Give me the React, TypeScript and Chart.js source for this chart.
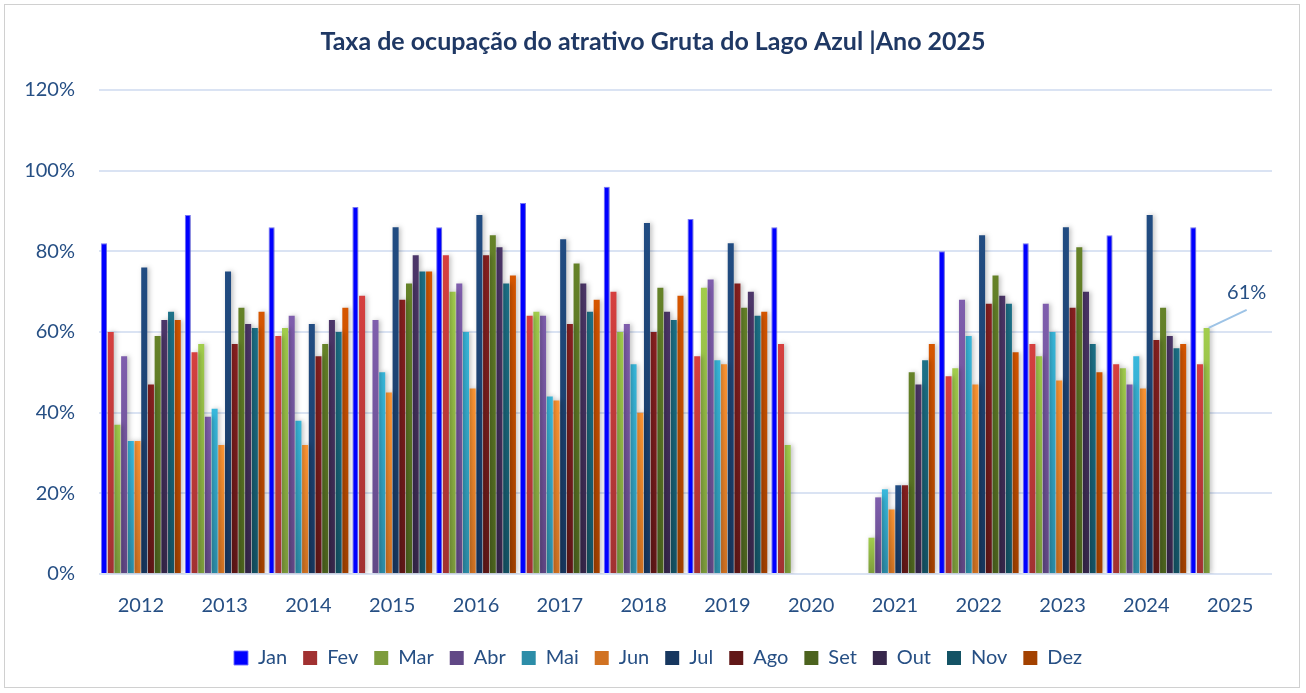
import { useEffect, useRef } from 'react';
import { Chart, registerables } from 'chart.js';

Chart.register(...registerables);

const YEARS = ['2012', '2013', '2014', '2015', '2016', '2017', '2018', '2019', '2020', '2021', '2022', '2023', '2024', '2025'];
const MONTHS = ['Jan', 'Fev', 'Mar', 'Abr', 'Mai', 'Jun', 'Jul', 'Ago', 'Set', 'Out', 'Nov', 'Dez'];

const JAN = [82, 89, 86, 91, 86, 92, 96, 88, 86, null, 80, 82, 84, 86];
const FEV = [60, 55, 59, 69, 79, 64, 70, 54, 57, null, 49, 57, 52, 52];
const MAR = [37, 57, 61, null, 70, 65, 60, 71, 32, 9, 51, 54, 51, 61];
const ABR = [54, 39, 64, 63, 72, 64, 62, 73, null, 19, 68, 67, 47, null];
const MAI = [33, 41, 38, 50, 60, 44, 52, 53, null, 21, 59, 60, 54, null];
const JUN = [33, 32, 32, 45, 46, 43, 40, 52, null, 16, 47, 48, 46, null];
const JUL = [76, 75, 62, 86, 89, 83, 87, 82, null, 22, 84, 86, 89, null];
const AGO = [47, 57, 54, 68, 79, 62, 60, 72, null, 22, 67, 66, 58, null];
const SET = [59, 66, 57, 72, 84, 77, 71, 66, null, 50, 74, 81, 66, null];
const OUT = [63, 62, 63, 79, 81, 72, 65, 70, null, 47, 69, 70, 59, null];
const NOV = [65, 61, 60, 75, 72, 65, 63, 64, null, 53, 67, 57, 56, null];
const DEZ = [63, 65, 66, 75, 74, 68, 69, 65, null, 57, 55, 50, 57, null];

const SERIES = [JAN, FEV, MAR, ABR, MAI, JUN, JUL, AGO, SET, OUT, NOV, DEZ];

const Y_TICKS = [0, 20, 40, 60, 80, 100, 120];

const TOP_COLORS = ['#0000FF', '#D6403F', '#A2CD4C', '#7F5EAD', '#38B8DC', '#FF9633', '#214C82', '#8A2020', '#658228', '#4C3669', '#1C7188', '#D65600'];
const BOTTOM_COLORS = ['#0000FF', '#A13131', '#7D9C3C', '#614886', '#2C8DA8', '#D17222', '#17375F', '#611717', '#4C631E', '#37274B', '#145365', '#A34100'];

const TEXT = '#264F84';
const FONT = 'Lato, "Open Sans", sans-serif';

function barColor(i: number) {
  return (ctx: any) => {
    if (ctx.type !== 'data' || i === 0) return TOP_COLORS[i];
    const chart = ctx.chart;
    const y = chart.scales && chart.scales.y;
    const v = ctx.raw;
    if (!y || v == null) return TOP_COLORS[i];
    const top = y.getPixelForValue(v);
    const bottom = y.getPixelForValue(0);
    if (!isFinite(top) || !isFinite(bottom) || bottom - top < 1) return TOP_COLORS[i];
    const g = chart.ctx.createLinearGradient(0, top, 0, bottom);
    g.addColorStop(0, TOP_COLORS[i]);
    g.addColorStop(1, BOTTOM_COLORS[i]);
    return g;
  };
}

const shadowPlugin = {
  id: 'barShadow',
  beforeDatasetsDraw(chart: any) {
    const c = chart.ctx;
    c.save();
    c.shadowColor = 'rgba(0,0,0,0.25)';
    c.shadowBlur = 5;
    c.shadowOffsetX = 2;
    c.shadowOffsetY = 0;
  },
  afterDatasetsDraw(chart: any) {
    chart.ctx.restore();
  },
};

// nudge title and legend to the right so they are centred like the reference
const shiftPlugin = {
  id: 'shiftBlocks',
  afterLayout(chart: any) {
    const t = chart.titleBlock;
    if (t) { t.left += 17; t.right += 17; }
    const l = chart.legend;
    if (l) { l.left += 22; l.right += 22; }
  },
};

const labelPlugin = {
  id: 'lastLabel',
  afterDatasetsDraw(chart: any) {
    const di = MONTHS.indexOf('Mar');
    const idx = YEARS.indexOf('2025');
    const el = chart.getDatasetMeta(di).data[idx];
    const v = SERIES[di][idx];
    if (!el || v == null) return;
    const c = chart.ctx;
    c.save();
    c.strokeStyle = '#9DC3E6';
    c.lineWidth = 2;
    c.beginPath();
    c.moveTo(el.x + 2, el.y);
    c.lineTo(el.x + 40, el.y - 18);
    c.stroke();
    c.fillStyle = TEXT;
    c.font = `20px ${FONT}`;
    c.textAlign = 'center';
    c.textBaseline = 'middle';
    c.fillText(`${v}%`, el.x + 40, el.y - 35);
    c.restore();
  },
};

export default function App() {
  const ref = useRef<HTMLCanvasElement | null>(null);

  useEffect(() => {
    document.body.style.margin = '0';
    if (!ref.current) return;
    const chart = new Chart(ref.current, {
      type: 'bar',
      data: {
        labels: YEARS,
        datasets: MONTHS.map((m, i) => ({
          label: m,
          data: SERIES[i],
          backgroundColor: barColor(i) as any,
          borderColor: i === 0 ? 'rgba(110,110,255,0.9)' : 'rgba(0,0,0,0)',
          borderWidth: i === 0 ? 1 : 0,
          borderSkipped: 'bottom',
          categoryPercentage: 0.96,
          barPercentage: 0.9,
        })),
      },
      options: {
        animation: false,
        responsive: false,
        maintainAspectRatio: false,
        layout: { padding: { left: 0, right: 34, top: 0, bottom: 15 } },
        plugins: {
          title: {
            display: true,
            text: 'Taxa de ocupação do atrativo Gruta do Lago Azul |Ano 2025',
            color: '#1F3864',
            font: { family: FONT, size: 25, weight: 'bold' },
            padding: { top: 27, bottom: 33 },
          },
          legend: {
            position: 'bottom',
            labels: {
              boxWidth: 14,
              boxHeight: 14,
              padding: 16,
              color: TEXT,
              font: { family: FONT, size: 20 },
            },
          },
          tooltip: { enabled: false },
        },
        scales: {
          x: {
            grid: { display: false, drawTicks: false },
            border: { display: false },
            ticks: { color: TEXT, font: { family: FONT, size: 20 }, padding: 20 },
            afterFit: (s: any) => { s.height = 58; },
          },
          y: {
            min: 0,
            max: 120,
            afterBuildTicks: (s: any) => { s.ticks = Y_TICKS.map((v) => ({ value: v })); },
            grid: { color: '#DAE3F3', lineWidth: 2, drawTicks: false },
            border: { display: false },
            ticks: {
              color: TEXT,
              font: { family: FONT, size: 20 },
              padding: 24,
              callback: (v: any) => `${v}%`,
            },
            afterFit: (s: any) => { s.width = 99; },
          },
        },
      },
      plugins: [shadowPlugin, shiftPlugin, labelPlugin],
    });
    return () => chart.destroy();
  }, []);

  return (
    <div style={{ position: 'relative', width: 1306, height: 693, background: '#fff' }}>
      <div style={{ position: 'absolute', left: 4, top: 4, width: 1296, height: 684, border: '1px solid #D0D0D0', boxSizing: 'border-box' }} />
      <canvas ref={ref} width={1306} height={693} style={{ position: 'absolute', left: 0, top: 0, width: 1306, height: 693 }} />
    </div>
  );
}
